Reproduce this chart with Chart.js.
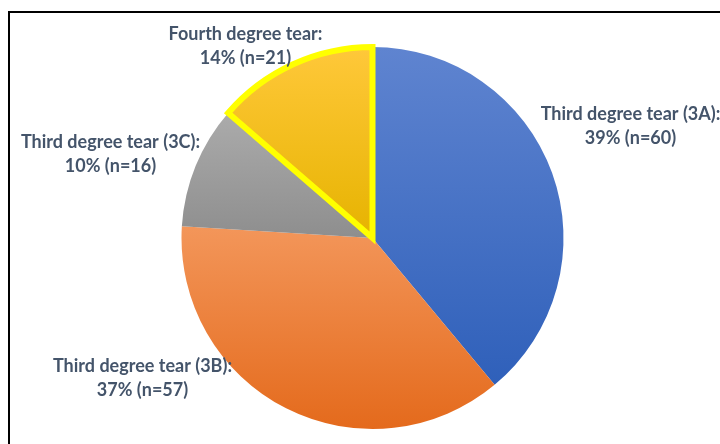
<!DOCTYPE html>
<html>
<head>
<meta charset="utf-8">
<script src="https://cdn.jsdelivr.net/npm/chart.js@4"></script>
<style>
  html, body { margin: 0; padding: 0; background: #fff; }
  #wrap { position: relative; width: 720px; height: 444px; overflow: hidden; }
  #frame { position: absolute; left: 8px; top: 11px; width: 800px; height: 600px;
           border-top: 2px solid #000; border-left: 2px solid #000; box-sizing: border-box; }
  canvas { position: absolute; left: 0; top: 0; }
</style>
</head>
<body>
<div id="wrap">
  <div id="frame"></div>
  <canvas id="c" width="720" height="444"></canvas>
</div>
<script>
const categories = ["Third degree tear (3A)", "Third degree tear (3B)", "Third degree tear (3C)", "Fourth degree tear"];
const counts = [60, 57, 16, 21];
const topColors = ["#5F84D0", "#F3965A", "#ABABAB", "#FFC83A"];
const bottomColors = ["#2F60BA", "#E46A1C", "#8E8E8E", "#E6B300"];
const borderColors = ["rgba(0,0,0,0)", "rgba(0,0,0,0)", "rgba(0,0,0,0)", "#FFFF00"];
const borderWidths = [0, 0, 0, 6];

const total = counts.reduce((a, b) => a + b, 0);

// label placement relative to the pie centre (in pixels), per slice
const labelOffsets = [[258, -124], [-230, 128], [-262, -96], [-127, -204]];

const gradientPlugin = {
  id: 'sliceGradient',
  beforeDatasetsDraw(chart) {
    const ctx = chart.ctx;
    const meta = chart.getDatasetMeta(0);
    meta.data.forEach((arc, i) => {
      const { x, y, startAngle, endAngle, outerRadius } = arc.getProps(['x', 'y', 'startAngle', 'endAngle', 'outerRadius'], true);
      let minY = y, maxY = y;
      const steps = 60;
      for (let s = 0; s <= steps; s++) {
        const a = startAngle + (endAngle - startAngle) * s / steps;
        const py = y + Math.sin(a) * outerRadius;
        minY = Math.min(minY, py); maxY = Math.max(maxY, py);
      }
      const g = ctx.createLinearGradient(0, minY, 0, maxY);
      g.addColorStop(0, topColors[i]);
      g.addColorStop(1, bottomColors[i]);
      arc.options.backgroundColor = g;
    });
  }
};

const labelPlugin = {
  id: 'sliceLabels',
  afterDatasetsDraw(chart) {
    const ctx = chart.ctx;
    const meta = chart.getDatasetMeta(0);
    ctx.save();
    ctx.fillStyle = '#44546A';
    ctx.font = 'bold 18px Lato';
    ctx.textAlign = 'center';
    ctx.textBaseline = 'middle';
    meta.data.forEach((arc, i) => {
      const cx = arc.x + labelOffsets[i][0];
      const cy = arc.y + labelOffsets[i][1];
      const pct = Math.round(counts[i] / total * 100);
      ctx.fillText(categories[i] + ':', cx, cy);
      ctx.fillText(pct + '% (n=' + counts[i] + ')', cx, cy + 24);
    });
    ctx.restore();
  }
};

new Chart(document.getElementById('c'), {
  type: 'pie',
  data: {
    labels: categories,
    datasets: [{
      data: counts,
      backgroundColor: topColors,
      borderColor: borderColors,
      borderWidth: borderWidths,
      borderJoinStyle: 'miter'
    }]
  },
  options: {
    responsive: false,
    animation: false,
    layout: { padding: { top: 44, bottom: 12, left: 25, right: 0 } },
    plugins: { legend: { display: false }, tooltip: { enabled: false } }
  },
  plugins: [gradientPlugin, labelPlugin]
});
</script>
</body>
</html>
